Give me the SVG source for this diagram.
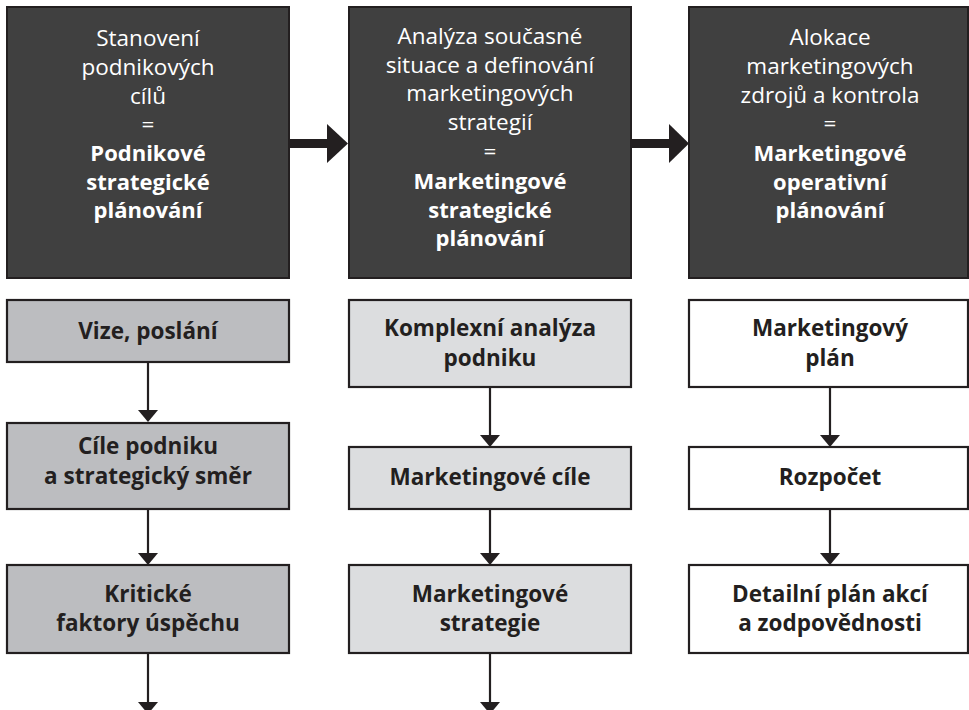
<svg xmlns="http://www.w3.org/2000/svg" width="969" height="710" viewBox="0 0 969 710">
<style>
.hdr{fill:#404040;stroke:#231f20;stroke-width:2}
.b1{fill:#bcbdc0;stroke:#231f20;stroke-width:2.2}
.b2{fill:#dcdddf;stroke:#231f20;stroke-width:2.2}
.b3{fill:#ffffff;stroke:#231f20;stroke-width:2.2}
.ht{font-family:"Open Sans","Noto Sans",sans-serif;font-size:22.5px;fill:#ffffff;text-anchor:middle}
.hb{font-weight:bold;font-size:22px}
.bt{font-family:"Open Sans","Noto Sans",sans-serif;font-size:22.5px;font-weight:bold;fill:#231f20;text-anchor:middle}
.ln{stroke:#231f20;stroke-width:2.2;fill:none}
.ah{fill:#231f20}
</style>
<g id="connectors">
<rect class="ah" x="289" y="139" width="40" height="9"/>
<polygon class="ah" points="327,124 348,143.5 327,163"/>
<rect class="ah" x="631" y="139" width="40" height="9"/>
<polygon class="ah" points="669,124 689,143.5 669,163"/>
<line class="ln" x1="148" y1="362" x2="148" y2="411"/><polygon class="ah" points="138,410 158,410 148,422"/>
<line class="ln" x1="148" y1="509" x2="148" y2="554"/><polygon class="ah" points="138,553 158,553 148,565"/>
<line class="ln" x1="148" y1="653" x2="148" y2="703"/><polygon class="ah" points="138,702 158,702 148,714"/>
<line class="ln" x1="490" y1="387" x2="490" y2="436"/><polygon class="ah" points="480,435 500,435 490,447"/>
<line class="ln" x1="490" y1="509" x2="490" y2="554"/><polygon class="ah" points="480,553 500,553 490,565"/>
<line class="ln" x1="490" y1="653" x2="490" y2="703"/><polygon class="ah" points="480,702 500,702 490,714"/>
<line class="ln" x1="830" y1="387" x2="830" y2="436"/><polygon class="ah" points="820,435 840,435 830,447"/>
<line class="ln" x1="830" y1="509" x2="830" y2="554"/><polygon class="ah" points="820,553 840,553 830,565"/>
</g>
<g id="h1">
<rect class="hdr" x="7" y="7" width="282" height="271"/>
<text class="ht" x="148" y="46">Stanovení</text>
<text class="ht" x="148" y="75">podnikových</text>
<text class="ht" x="148" y="103.5">cílů</text>
<text class="ht" x="148" y="132">=</text>
<text class="ht hb" x="148" y="161">Podnikové</text>
<text class="ht hb" x="148" y="189.5">strategické</text>
<text class="ht hb" x="148" y="218">plánování</text>
</g>
<g id="h2">
<rect class="hdr" x="349" y="7" width="282" height="271"/>
<text class="ht" x="490" y="44">Analýza současné</text>
<text class="ht" x="490" y="72.5">situace a definování</text>
<text class="ht" x="490" y="101">marketingových</text>
<text class="ht" x="490" y="130">strategií</text>
<text class="ht" x="490" y="158.5">=</text>
<text class="ht hb" x="490" y="189">Marketingové</text>
<text class="ht hb" x="490" y="217.5">strategické</text>
<text class="ht hb" x="490" y="246">plánování</text>
</g>
<g id="h3">
<rect class="hdr" x="689" y="7" width="279" height="271"/>
<text class="ht" x="830" y="45">Alokace</text>
<text class="ht" x="830" y="74">marketingových</text>
<text class="ht" x="830" y="102.5">zdrojů a kontrola</text>
<text class="ht" x="830" y="131">=</text>
<text class="ht hb" x="830" y="161">Marketingové</text>
<text class="ht hb" x="830" y="189.5">operativní</text>
<text class="ht hb" x="830" y="218">plánování</text>
</g>
<g id="n11"><rect class="b1" x="7" y="300" width="282" height="62"/><text class="bt" x="148" y="338.5">Vize, poslání</text></g>
<g id="n12"><rect class="b1" x="7" y="423" width="282" height="86"/><text class="bt" x="148" y="453.5">Cíle podniku</text><text class="bt" x="148" y="483.5">a strategický směr</text></g>
<g id="n13"><rect class="b1" x="7" y="565" width="282" height="88"/><text class="bt" x="148" y="601.5">Kritické</text><text class="bt" x="148" y="630.5">faktory úspěchu</text></g>
<g id="n21"><rect class="b2" x="349" y="300" width="282" height="87"/><text class="bt" x="490" y="335.5">Komplexní analýza</text><text class="bt" x="490" y="365.5">podniku</text></g>
<g id="n22"><rect class="b2" x="349" y="447" width="282" height="62"/><text class="bt" x="490" y="484.5">Marketingové cíle</text></g>
<g id="n23"><rect class="b2" x="349" y="565" width="282" height="88"/><text class="bt" x="490" y="601.5">Marketingové</text><text class="bt" x="490" y="630.5">strategie</text></g>
<g id="n31"><rect class="b3" x="689" y="300" width="279" height="87"/><text class="bt" x="830" y="335.5">Marketingový</text><text class="bt" x="830" y="365.5">plán</text></g>
<g id="n32"><rect class="b3" x="689" y="447" width="279" height="62"/><text class="bt" x="830" y="484.5">Rozpočet</text></g>
<g id="n33"><rect class="b3" x="689" y="565" width="279" height="88"/><text class="bt" x="830" y="601.5">Detailní plán akcí</text><text class="bt" x="830" y="630.5">a zodpovědnosti</text></g>
</svg>
